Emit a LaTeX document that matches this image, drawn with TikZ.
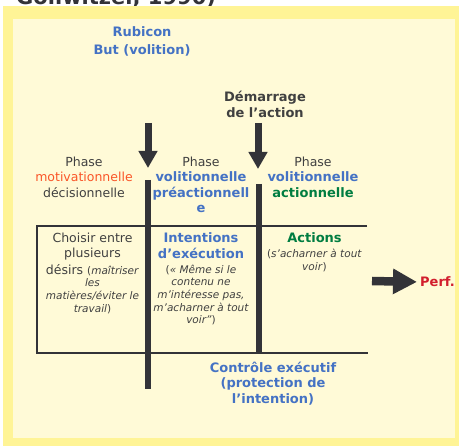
\documentclass[tikz,border=0pt]{standalone}
\usepackage{fontspec}
\setmainfont{DejaVu Sans}
\usetikzlibrary{positioning,arrows.meta}
\definecolor{frameyellow}{RGB}{255,244,150}
\definecolor{paneyellow}{RGB}{255,250,215}
\definecolor{volblue}{RGB}{68,114,196}
\definecolor{motorange}{RGB}{250,85,40}
\definecolor{actgreen}{RGB}{0,125,65}
\definecolor{perfred}{RGB}{210,30,45}
\definecolor{ink}{RGB}{51,51,56}
\definecolor{greytext}{RGB}{64,64,64}
\newcommand{\bigtext}{\fontsize{12.5}{15.5}\selectfont}
\newcommand{\boldbig}{\fontsize{13}{15.8}\selectfont\bfseries}
\newcommand{\smallup}{\fontsize{10.5}{12.7}\selectfont}
\newcommand{\smallit}{\fontsize{10.5}{12.7}\selectfont\itshape}

\begin{document}
\begin{tikzpicture}[x=1pt,y=-1pt,
  phasetext/.style={align=center,inner sep=0pt,text=greytext,font=\bigtext},
  boldtext/.style={phasetext,font=\boldbig},
  thick bar/.style={draw=ink,line width=6.5pt},
  thin rule/.style={draw=ink,line width=1.4pt},
  down arrow/.style={ink,line width=7pt,-{Triangle[length=17pt,width=18pt]}}]
   \useasboundingbox (0,0) rectangle (459,446);
   \clip (0,0) rectangle (459,446);
   % title, cut off at the top
   \node[anchor=base west,inner sep=0pt,text=ink,
         font=\fontsize{21}{25}\selectfont\bfseries] (heading) at (16,4.5) {Gollwitzer, 1990)};
   \fill[frameyellow] (3,6) rectangle (459,446);
   \fill[paneyellow] (13,19) rectangle (455,438);

   \node[boldtext,text=volblue,anchor=north] (rubicon) at (142,26) {Rubicon};
   \node[boldtext,text=volblue,anchor=north] (goal) at (142,44) {But (volition)};
   \node[boldtext,anchor=north] (start) at (265,91) {Démarrage\\de l’action};

   % phases
   \node[phasetext,anchor=north] (motiv) at (84,156.5)
      {Phase\\\textcolor{motorange}{motivationnelle}\\décisionnelle};
   \node[phasetext,anchor=north] (preact) at (201,156.5)
      {Phase\\{\boldbig\color{volblue}volitionnelle}\\{\boldbig\color{volblue}préactionnell}\\{\boldbig\color{volblue}e}};
   \node[phasetext,anchor=north] (act) at (313,156.5)
      {Phase\\{\boldbig\color{volblue}volitionnelle}\\{\boldbig\color{actgreen}actionnelle}};

   % arrows and bars
   \coordinate (rubtop) at (148,123);
   \coordinate (rubtip) at (148,168);
   \coordinate (starttop) at (258,123);
   \coordinate (starttip) at (258,169);
   \draw[down arrow] (rubtop) -- (rubtip);
   \draw[down arrow] (starttop) -- (starttip);
   \draw[thick bar] (148,180) -- (148,389);
   \draw[thick bar] (259,184) -- (259,354);
   \draw[thin rule] (367,226) -- (37,226) -- (37,353) -- (368,353);

   % contents of the columns
   \node[phasetext,anchor=north] (choose) at (92.5,232.5)
      {Choisir entre\\plusieurs\\[1pt]désirs {\smallup(\textit{maîtriser}}\\[-2.8pt]{\smallit les}\\[-2.8pt]{\smallit matières/éviter le}\\[-2.8pt]{\smallup\textit{travail})}};
   \node[phasetext,anchor=north] (intent) at (201,232.5)
      {{\boldbig\color{volblue}Intentions}\\{\boldbig\color{volblue}d’exécution}\\[-0.5pt]{\smallup(\textit{« Même si le}}\\[-2.8pt]{\smallit contenu ne}\\[-2.8pt]{\smallit m’intéresse pas,}\\[-2.8pt]{\smallit m’acharner à tout}\\[-2.8pt]{\smallup\textit{voir”})}};
   \node[phasetext,anchor=north] (actions) at (314.5,232.5)
      {{\boldbig\color{actgreen}Actions}\\[-0.5pt]{\smallup(\textit{s’acharner à tout}}\\[-2.8pt]{\smallup\textit{voir})}};

   \node[boldtext,text=perfred,anchor=west] (perf) at (420,282) {Perf.};
   \coordinate (perfstart) at (372,281);
   \draw[ink,line width=8.5pt,-{Triangle[length=24pt,width=24pt]},shorten >=3pt] (perfstart) -- (perf.west);

   \node[boldtext,text=volblue,anchor=north] (control) at (273,361.5)
      {Contrôle exécutif\\(protection de\\l’intention)};
\end{tikzpicture}
\end{document}
